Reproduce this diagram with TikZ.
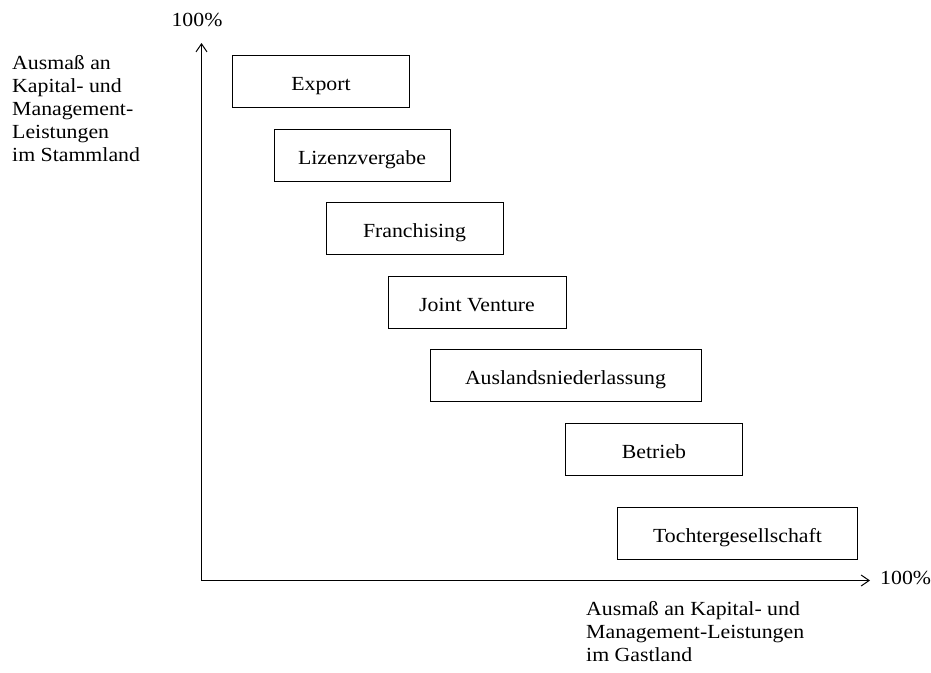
\documentclass[tikz,border=0pt]{standalone}
\usepackage{fontspec}
\setmainfont{Liberation Serif}[FakeStretch=1.09]
\usetikzlibrary{arrows.meta}
\begin{document}
\begin{tikzpicture}[x=1pt,y=-1pt,
  every node/.style={font=\fontsize{20}{23}\selectfont},
  stage/.style={draw, line width=0.9pt, inner sep=0pt, minimum height=52pt,
    text height=18pt, text depth=0pt},
  label/.style={inner sep=0pt, align=left},
  axis/.style={line width=1.2pt, -{Straight Barb[length=8pt,width=11pt,line width=1pt]}}]
\useasboundingbox (0,0) rectangle (931,672);

% stages of market entry
\node[stage, minimum width=177pt] (export) at (321,81.5) {Export};
\node[stage, minimum width=176pt] (lizenz) at (362,155.5) {Lizenzvergabe};
\node[stage, minimum width=177pt] (franch) at (414.5,228) {Franchising};
\node[stage, minimum width=178pt] (joint) at (477,302) {Joint Venture};
\node[stage, minimum width=271pt] (ausland) at (565.5,375.5) {Auslandsniederlassung};
\node[stage, minimum width=177pt] (betrieb) at (654,449) {Betrieb};
\node[stage, minimum width=240pt] (tochter) at (737.5,533) {Tochtergesellschaft};

% axes
\coordinate (origin) at (201.5,580.5);
\coordinate (ytip) at (201.5,43);
\coordinate (xtip) at (870,580.5);
\draw[axis] (origin) -- (ytip);
\draw[axis] (origin) -- (xtip);

% axis labels
\node[label, anchor=base] (ymax) at (197,26) {100\%};
\node[label, anchor=base west] (xmax) at (880,584) {100\%};
\node[label, anchor=north west] (ylabel) at (12,55.5)
  {Ausmaß an\\Kapital- und\\Management-\\Leistungen\\im Stammland};
\node[label, anchor=north west] (xlabel) at (586,601)
  {Ausmaß an Kapital- und\\Management-Leistungen\\im Gastland};
\end{tikzpicture}
\end{document}
